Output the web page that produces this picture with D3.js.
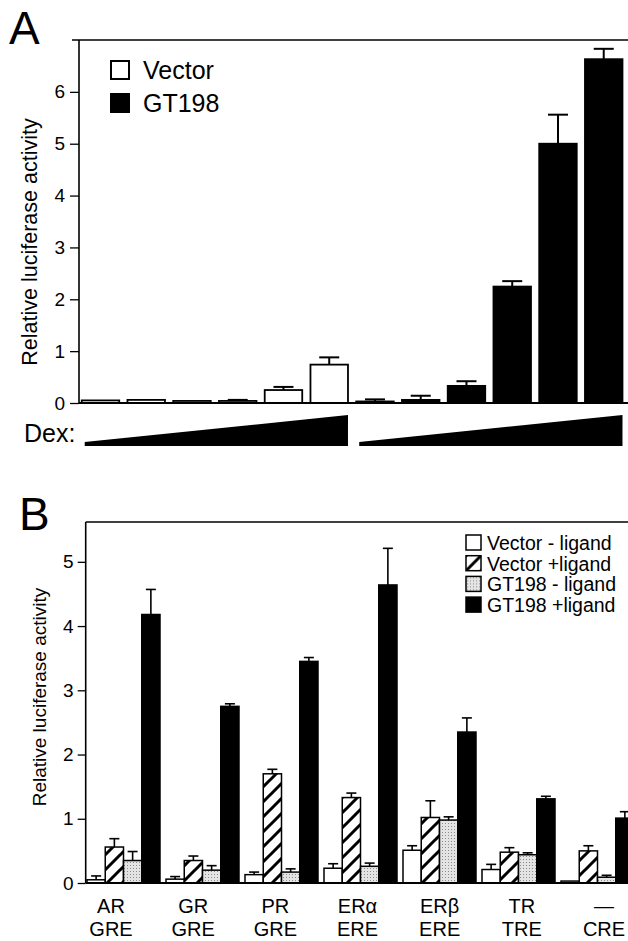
<!DOCTYPE html>
<html lang="en">
<head>
<meta charset="UTF-8">
<title>GT198 luciferase</title>
<script src="https://d3js.org/d3.v7.min.js"></script>
<style>
    body { margin: 0; background: #fff; }
    svg { display: block; font-family: "Liberation Sans", Arial, sans-serif; }
</style>
</head>
<body>
<div id="chart"></div>
<script>
// Panel A: increasing Dex, vector vs GT198
const vectorValues = [0.05, 0.06, 0.04, 0.04, 0.25, 0.74];
const vectorErrTop = [null, null, null, 0.06, 0.31, 0.88];
const gt198Values = [0.03, 0.06, 0.33, 2.245, 5.0, 6.63];
const gt198ErrTop = [0.07, 0.14, 0.42, 2.35, 5.56, 6.83];
const seriesA = ["Vector", "GT198"];
const ticksA = [0, 1, 2, 3, 4, 5, 6];

// Panel B: receptors / response elements
const receptors = ["AR", "GR", "PR", "ERα", "ERβ", "TR", "—"];
const elements = ["GRE", "GRE", "GRE", "ERE", "ERE", "TRE", "CRE"];
const seriesB = ["Vector - ligand", "Vector +ligand", "GT198 - ligand", "GT198 +ligand"];
const vecMinus = [0.05, 0.06, 0.13, 0.23, 0.51, 0.21, 0.03];
const vecMinusErr = [0.11, 0.10, 0.17, 0.30, 0.58, 0.29, null];
const vecPlus = [0.56, 0.35, 1.70, 1.33, 1.02, 0.48, 0.50];
const vecPlusErr = [0.69, 0.42, 1.77, 1.40, 1.28, 0.55, 0.58];
const gtMinus = [0.35, 0.20, 0.17, 0.26, 0.98, 0.44, 0.09];
const gtMinusErr = [0.49, 0.27, 0.22, 0.31, 1.03, 0.47, 0.12];
const gtPlus = [4.18, 2.75, 3.45, 4.64, 2.35, 1.31, 1.01];
const gtPlusErr = [4.57, 2.79, 3.51, 5.21, 2.57, 1.35, 1.11];
const ticksB = [0, 1, 2, 3, 4, 5];

const W = 628, H = 941;
const svg = d3.select("#chart").append("svg")
    .attr("width", W)
    .attr("height", H);

const defs = svg.append("defs");
const hatch = defs.append("pattern")
    .attr("id", "hatch")
    .attr("patternUnits", "userSpaceOnUse")
    .attr("width", 15).attr("height", 15);
hatch.append("rect").attr("width", 15).attr("height", 15).attr("fill", "#fff");
hatch.append("path")
    .attr("d", "M0,15L15,0M-4,4L4,-4M11,19L19,11")
    .attr("stroke", "#000").attr("stroke-width", 3);

const stipple = defs.append("pattern")
    .attr("id", "stipple")
    .attr("patternUnits", "userSpaceOnUse")
    .attr("width", 3).attr("height", 3);
stipple.append("rect").attr("width", 3).attr("height", 3).attr("fill", "#e4e4e4");
stipple.append("rect").attr("x", 1).attr("y", 1).attr("width", 1).attr("height", 1).attr("fill", "#8c8c8c");

// ---------- Panel A ----------
const barsA = [];
vectorValues.forEach((v, i) => barsA.push({series: "Vector", value: v, err: vectorErrTop[i]}));
gt198Values.forEach((v, i) => barsA.push({series: "GT198", value: v, err: gt198ErrTop[i]}));
barsA.forEach((d, i) => d.idx = i);

const axA = 79, topA = 40, baseA = 403;
const xA = d3.scaleBand()
    .domain(barsA.map(d => d.idx))
    .range([77.6, 626.6])
    .paddingInner(0.18)
    .paddingOuter(0.09);
const yA = d3.scaleLinear().domain([0, 7]).range([baseA, topA]);

const gA = svg.append("g");

gA.append("text")
    .attr("x", 9).attr("y", 44)
    .attr("font-size", 46)
    .text("A");

gA.append("g")
    .attr("transform", `translate(${axA},0)`)
    .call(d3.axisLeft(yA).tickValues(ticksA).tickSize(9).tickPadding(5).tickFormat(d3.format("d")))
    .call(g => g.select(".domain").remove())
    .call(g => g.selectAll("line").attr("stroke-width", 1.3))
    .call(g => g.selectAll("text").attr("font-size", 19).attr("font-family", "Liberation Sans, Arial, sans-serif"));

gA.append("text")
    .attr("transform", `translate(37,242) rotate(-90)`)
    .attr("text-anchor", "middle")
    .attr("font-size", 21.5)
    .text("Relative luciferase activity");

gA.selectAll("rect.bar")
    .data(barsA)
    .join("rect")
    .attr("class", "bar")
    .attr("x", d => xA(d.idx))
    .attr("y", d => yA(d.value))
    .attr("width", xA.bandwidth())
    .attr("height", d => baseA - yA(d.value))
    .attr("fill", d => d.series === "GT198" ? "#000" : "#fff")
    .attr("stroke", "#000")
    .attr("stroke-width", 1.8);

const errA = gA.selectAll("g.err")
    .data(barsA.filter(d => d.err != null))
    .join("g")
    .attr("class", "err")
    .attr("stroke", "#000")
    .attr("stroke-width", 2);
errA.append("line")
    .attr("x1", d => xA(d.idx) + xA.bandwidth() / 2)
    .attr("x2", d => xA(d.idx) + xA.bandwidth() / 2)
    .attr("y1", d => yA(d.value))
    .attr("y2", d => yA(d.err));
errA.append("line")
    .attr("x1", d => xA(d.idx) + xA.bandwidth() / 2 - 10)
    .attr("x2", d => xA(d.idx) + xA.bandwidth() / 2 + 10)
    .attr("y1", d => yA(d.err))
    .attr("y2", d => yA(d.err));

// frame
gA.append("line").attr("x1", axA).attr("x2", axA).attr("y1", topA).attr("y2", baseA)
    .attr("stroke", "#000").attr("stroke-width", 1.6);
gA.append("line").attr("x1", 72).attr("x2", W).attr("y1", topA).attr("y2", topA)
    .attr("stroke", "#000").attr("stroke-width", 1.6);
gA.append("line").attr("x1", axA).attr("x2", W).attr("y1", baseA).attr("y2", baseA)
    .attr("stroke", "#000").attr("stroke-width", 2);

// legend A
const legA = gA.selectAll("g.legA")
    .data(seriesA)
    .join("g")
    .attr("class", "legA")
    .attr("transform", (d, i) => `translate(111,${61 + i * 33})`);
legA.append("rect")
    .attr("width", 18).attr("height", 18)
    .attr("fill", d => d === "GT198" ? "#000" : "#fff")
    .attr("stroke", "#000").attr("stroke-width", 2);
legA.append("text")
    .attr("x", 32).attr("y", 18)
    .attr("font-size", 25)
    .text(d => d);

// Dex ramps
const dexGroups = [barsA.slice(0, 6), barsA.slice(6)];
gA.append("text")
    .attr("x", 24).attr("y", 442)
    .attr("font-size", 25)
    .text("Dex:");
gA.selectAll("path.dex")
    .data(dexGroups)
    .join("path")
    .attr("class", "dex")
    .attr("fill", "#000")
    .attr("d", grp => {
        const x0 = xA(grp[0].idx) + 3;
        const x1 = xA(grp[grp.length - 1].idx) + xA.bandwidth();
        return `M${x0},442L${x1},415L${x1},446L${x0},446Z`;
    });

// ---------- Panel B ----------
const axB = 85.7, topB = 522, baseB = 883;
const valuesB = [vecMinus, vecPlus, gtMinus, gtPlus];
const errsB = [vecMinusErr, vecPlusErr, gtMinusErr, gtPlusErr];
const barsB = [];
receptors.forEach((r, gi) => {
    seriesB.forEach((s, si) => {
        barsB.push({group: gi, series: s, si: si, value: valuesB[si][gi], err: errsB[si][gi]});
    });
});

const x0B = d3.scaleBand()
    .domain(d3.range(receptors.length))
    .range([84, 637])
    .paddingInner(0.076)
    .paddingOuter(0.038);
const x1B = d3.scaleBand()
    .domain(seriesB)
    .range([0, x0B.bandwidth()]);
const labelX = d3.scalePoint()
    .domain(d3.range(receptors.length))
    .range([111, 604]);
const yB = d3.scaleLinear().domain([0, 5.62]).range([baseB, topB]);
const fillB = d3.scaleOrdinal()
    .domain(seriesB)
    .range(["#fff", "url(#hatch)", "url(#stipple)", "#000"]);

const gB = svg.append("g");

gB.append("text")
    .attr("x", 19).attr("y", 530)
    .attr("font-size", 46)
    .text("B");

gB.append("g")
    .attr("transform", `translate(${axB},0)`)
    .call(d3.axisLeft(yB).tickValues(ticksB).tickSize(8).tickPadding(4).tickFormat(d3.format("d")))
    .call(g => g.select(".domain").remove())
    .call(g => g.selectAll("line").attr("stroke-width", 1.3))
    .call(g => g.selectAll("text").attr("font-size", 19).attr("font-family", "Liberation Sans, Arial, sans-serif"));

gB.append("text")
    .attr("transform", `translate(46,697) rotate(-90)`)
    .attr("text-anchor", "middle")
    .attr("font-size", 19)
    .text("Relative luciferase activity");

gB.selectAll("rect.bar")
    .data(barsB)
    .join("rect")
    .attr("class", "bar")
    .attr("x", d => x0B(d.group) + x1B(d.series))
    .attr("y", d => yB(d.value))
    .attr("width", x1B.bandwidth())
    .attr("height", d => baseB - yB(d.value))
    .attr("fill", d => fillB(d.series))
    .attr("stroke", "#000")
    .attr("stroke-width", 1.5);

const errB = gB.selectAll("g.err")
    .data(barsB.filter(d => d.err != null))
    .join("g")
    .attr("class", "err")
    .attr("stroke", "#000")
    .attr("stroke-width", 1.6);
errB.append("line")
    .attr("x1", d => x0B(d.group) + x1B(d.series) + x1B.bandwidth() / 2)
    .attr("x2", d => x0B(d.group) + x1B(d.series) + x1B.bandwidth() / 2)
    .attr("y1", d => yB(d.value))
    .attr("y2", d => yB(d.err));
errB.append("line")
    .attr("x1", d => x0B(d.group) + x1B(d.series) + x1B.bandwidth() / 2 - 5)
    .attr("x2", d => x0B(d.group) + x1B(d.series) + x1B.bandwidth() / 2 + 5)
    .attr("y1", d => yB(d.err))
    .attr("y2", d => yB(d.err));

gB.append("line").attr("x1", axB).attr("x2", axB).attr("y1", topB).attr("y2", baseB)
    .attr("stroke", "#000").attr("stroke-width", 1.6);
gB.append("line").attr("x1", axB).attr("x2", W).attr("y1", topB).attr("y2", topB)
    .attr("stroke", "#000").attr("stroke-width", 1.6);
gB.append("line").attr("x1", axB).attr("x2", W).attr("y1", baseB).attr("y2", baseB)
    .attr("stroke", "#000").attr("stroke-width", 2);

// category labels
const labB = gB.selectAll("g.lab")
    .data(d3.range(receptors.length))
    .join("g")
    .attr("class", "lab")
    .attr("text-anchor", "middle")
    .attr("font-size", 20);
labB.append("text")
    .attr("x", i => labelX(i))
    .attr("y", 913)
    .text(i => receptors[i]);
labB.append("text")
    .attr("x", i => labelX(i))
    .attr("y", 936)
    .text(i => elements[i]);

// legend B
const legB = gB.selectAll("g.legB")
    .data(seriesB)
    .join("g")
    .attr("class", "legB")
    .attr("transform", (d, i) => `translate(466,${535 + i * 20.7})`);
legB.append("rect")
    .attr("width", 15).attr("height", 15)
    .attr("fill", d => fillB(d))
    .attr("stroke", "#000").attr("stroke-width", 1.5);
legB.append("text")
    .attr("x", 21).attr("y", 15)
    .attr("font-size", 19.5)
    .text(d => d);
</script>
</body>
</html>
